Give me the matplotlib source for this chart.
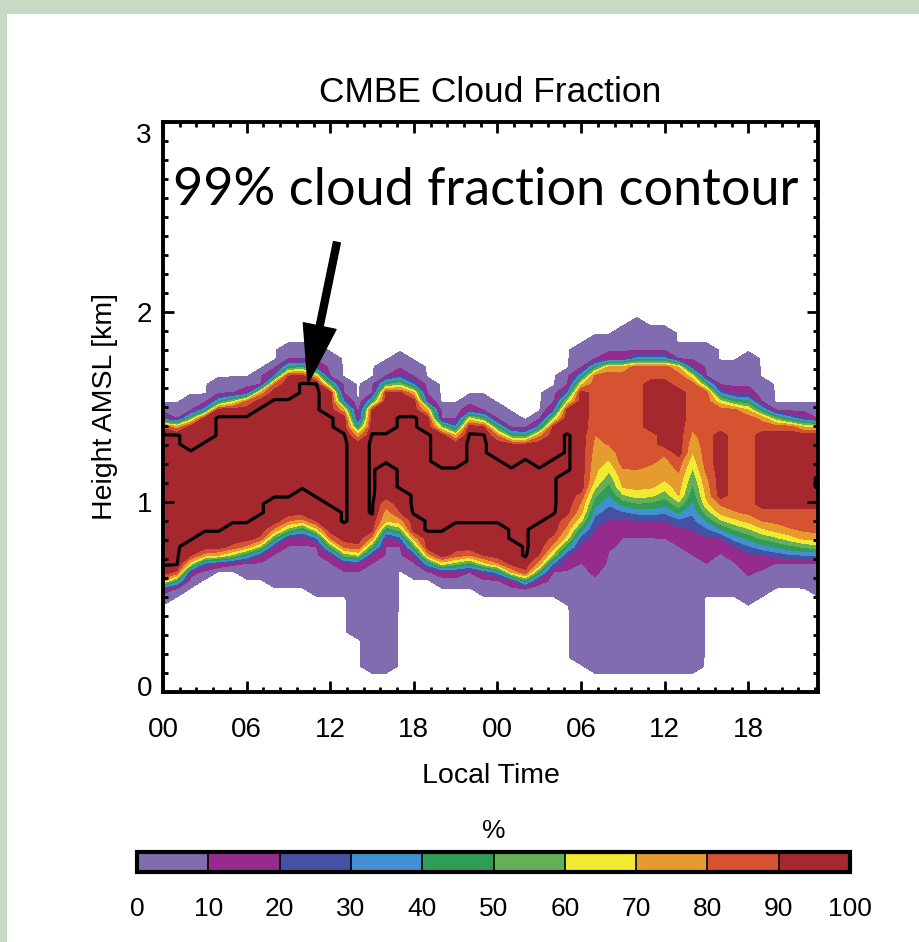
import numpy as np
import matplotlib
matplotlib.use('Agg')
import matplotlib.pyplot as plt
from matplotlib.colors import ListedColormap, BoundaryNorm
from matplotlib.colorbar import ColorbarBase
from matplotlib.patches import Rectangle
from matplotlib.ticker import MultipleLocator, FixedLocator
from matplotlib.transforms import ScaledTranslation

plt.rcParams['font.family'] = ['Liberation Sans', 'DejaVu Sans']

nan = np.nan

# hourly columns over two days (local time)
hours = np.arange(48)
hour_labels = ['00', '06', '12', '18', '00', '06', '12', '18']

# cloud-fraction colour bins, 0-100 %
cf_bounds = [0, 10, 20, 30, 40, 50, 60, 70, 80, 90, 100]
cf_colors = ['#806cae', '#952b8d', '#4552a3', '#4390d0', '#2f9d55',
             '#63b056', '#f2e932', '#e69b2e', '#d55330', '#a6282f']

# per-hour layer heights (km AMSL)
cld_top = [1.50, 1.50, 1.55, 1.55, 1.64, 1.64, 1.64, 1.70, 1.74, 1.83, 1.84, 1.82,
           1.76, 1.66, 1.50, 1.66, 1.74, 1.77, 1.74, 1.62, 1.51, 1.51, 1.57, 1.56,
           1.52, 1.45, 1.42, 1.47, 1.58, 1.70, 1.82, 1.85, 1.88, 1.93, 1.94, 1.93,
           1.90, 1.84, 1.82, 1.84, 1.72, 1.72, 1.76, 1.62, 1.52, 1.50, 1.50, 1.50]
top10 = [1.45, 1.44, 1.47, 1.50, 1.55, 1.57, 1.58, 1.62, 1.68, 1.74, 1.75, 1.72,
         1.65, 1.55, 1.44, 1.56, 1.66, 1.68, 1.64, 1.54, 1.44, 1.42, 1.49, 1.48,
         1.44, 1.39, 1.38, 1.42, 1.50, 1.60, 1.70, 1.75, 1.76, 1.76, 1.77, 1.77,
         1.77, 1.75, 1.72, 1.66, 1.60, 1.58, 1.58, 1.52, 1.48, 1.46, 1.45, 1.44]
top_core = [1.39, 1.38, 1.41, 1.45, 1.49, 1.50, 1.52, 1.56, 1.61, 1.66, 1.66, 1.64,
            1.58, 1.46, 1.32, 1.48, 1.57, 1.57, 1.55, 1.46, 1.36, 1.32, 1.41, 1.39,
            1.33, 1.30, 1.30, 1.33, 1.39, 1.48, 1.58, 1.66, 1.70, 1.70, 1.72, 1.72,
            1.72, 1.70, 1.64, 1.58, 1.50, 1.48, 1.46, 1.43, 1.41, 1.40, 1.38, 1.38]
base_core = [0.63, 0.64, 0.73, 0.76, 0.76, 0.78, 0.79, 0.82, 0.88, 0.93, 0.94, 0.91,
             0.83, 0.79, 0.78, 0.86, 1.04, 0.96, 0.85, 0.76, 0.72, 0.74, 0.75, 0.73,
             0.71, 0.68, 0.64, 0.74, 0.84, 0.96, 1.08, 1.40, 1.34, 1.22, 1.21, 1.24,
             1.29, 1.20, 1.42, 1.19, 1.02, 0.99, 0.97, 0.94, 0.92, 0.90, 0.88, 0.87]
base80 = [0.60, 0.62, 0.70, 0.73, 0.74, 0.75, 0.77, 0.80, 0.86, 0.90, 0.91, 0.88,
          0.81, 0.76, 0.75, 0.82, 0.98, 0.92, 0.82, 0.73, 0.70, 0.71, 0.72, 0.70,
          0.68, 0.65, 0.62, 0.69, 0.78, 0.88, 1.00, 1.36, 1.30, 1.18, 1.17, 1.20,
          1.25, 1.16, 1.38, 1.15, 0.98, 0.95, 0.93, 0.90, 0.88, 0.86, 0.84, 0.83]
base70 = [0.58, 0.60, 0.68, 0.71, 0.72, 0.73, 0.75, 0.78, 0.84, 0.87, 0.89, 0.86,
          0.79, 0.74, 0.73, 0.79, 0.90, 0.88, 0.80, 0.71, 0.68, 0.69, 0.70, 0.68,
          0.66, 0.63, 0.60, 0.66, 0.74, 0.82, 0.92, 1.12, 1.22, 1.07, 1.05, 1.06,
          1.10, 1.03, 1.26, 1.00, 0.93, 0.91, 0.89, 0.86, 0.84, 0.82, 0.80, 0.79]
base20 = [0.55, 0.57, 0.64, 0.67, 0.68, 0.69, 0.70, 0.72, 0.77, 0.82, 0.83, 0.80,
          0.73, 0.68, 0.68, 0.73, 0.82, 0.80, 0.72, 0.66, 0.64, 0.64, 0.65, 0.63,
          0.62, 0.59, 0.57, 0.60, 0.66, 0.72, 0.80, 0.88, 0.92, 0.92, 0.91, 0.90,
          0.90, 0.88, 0.85, 0.83, 0.81, 0.77, 0.74, 0.72, 0.71, 0.70, 0.70, 0.70]
base10 = [0.53, 0.55, 0.62, 0.65, 0.66, 0.67, 0.68, 0.70, 0.75, 0.79, 0.80, 0.77,
          0.71, 0.66, 0.66, 0.70, 0.79, 0.77, 0.70, 0.64, 0.62, 0.62, 0.63, 0.61,
          0.60, 0.57, 0.55, 0.58, 0.63, 0.66, 0.70, 0.62, 0.76, 0.82, 0.83, 0.82,
          0.81, 0.79, 0.73, 0.68, 0.75, 0.70, 0.62, 0.66, 0.69, 0.68, 0.68, 0.68]
cld_base = [0.47, 0.53, 0.58, 0.62, 0.64, 0.64, 0.63, 0.60, 0.57, 0.56, 0.55, 0.54,
            0.52, 0.50, 0.29, 0.11, 0.11, 0.64, 0.63, 0.60, 0.57, 0.56, 0.55, 0.54,
            0.54, 0.52, 0.50, 0.51, 0.50, 0.48, 0.16, 0.11, 0.11, 0.11, 0.11, 0.11,
            0.11, 0.11, 0.11, 0.52, 0.54, 0.53, 0.46, 0.50, 0.56, 0.57, 0.55, 0.52]

# cloud fraction (%) inside the layer core
core_cf = [95, 95, 95, 95, 95, 95, 95, 95, 95, 95, 95, 95,
           95, 95, 95, 95, 95, 95, 95, 95, 95, 95, 95, 95,
           95, 95, 95, 95, 95, 95, 95, 85, 85, 85, 85, 85,
           85, 85, 85, 85, 85, 85, 85, 85, 85, 85, 85, 85]

# overcast pockets (>90 %) inside the day-2 layer
patch_lo = [nan] * 35 + [1.38, 1.30, 1.24, nan, nan, 1.01, nan, nan, 0.98, 0.95, 0.95, 0.95, 0.96]
patch_hi = [nan] * 35 + [1.65, 1.66, 1.60, nan, nan, 1.37, nan, nan, 1.36, 1.36, 1.36, 1.35, 1.35]

# fully overcast (>=99 %) core
full_lo = [0.65, 0.66, 0.77, 0.82, 0.81, 0.87, 0.87, 0.91, 1.01, 1.01, 1.05, 1.01,
           0.96, 0.89, nan, 0.91, 1.19, 1.07, 0.90, 0.82, 0.83, 0.86, 0.88, 0.86,
           0.86, 0.78, 0.69, 0.89, 0.93, 1.14] + [nan] * 17 + [1.05]
full_hi = [1.37, 1.37, 1.29, 1.34, 1.44, 1.46, 1.46, 1.50, 1.55, 1.57, 1.64, 1.62,
           1.47, 1.38, nan, 1.38, 1.38, 1.47, 1.46, 1.35, 1.21, 1.20, 1.37, 1.36,
           1.25, 1.20, 1.23, 1.20, 1.25, 1.37] + [nan] * 17 + [1.13]

# build the height x time grid
z = np.arange(0, 3.0001, 0.045)
cf = np.zeros((len(z), len(hours)))
for i in range(len(hours)):
    zk = [cld_base[i], base10[i], base20[i], base70[i], base80[i],
          base_core[i], top_core[i], top10[i], cld_top[i]]
    vk = [5, 10, 20, 70, 80, core_cf[i], core_cf[i], 10, 5]
    col = np.interp(z, zk, vk)
    col[(z < cld_base[i]) | (z > cld_top[i])] = 0
    if not np.isnan(patch_lo[i]):
        m = (z >= patch_lo[i]) & (z <= patch_hi[i])
        col[m] = np.maximum(col[m], 95)
    if not np.isnan(full_lo[i]):
        col[(z >= full_lo[i]) & (z <= full_hi[i])] = 100
    cf[:, i] = col

W, H = 919, 942
fig = plt.figure(figsize=(W / 100, H / 100), dpi=100)
fig.patch.set_facecolor('#c8dac3')
fig.add_artist(Rectangle((7 / W, 0), 1 - 7 / W, 1 - 14 / H, transform=fig.transFigure,
                         facecolor='white', edgecolor='none', zorder=-10))

ax = fig.add_axes([163 / W, 1 - 692 / H, 655 / W, 570 / H])
levels = [1, 10, 20, 30, 40, 50, 60, 70, 80, 90, 101]
ax.contourf(hours, z, cf, levels=levels, colors=cf_colors)
ax.contour(hours, z, cf, levels=[99], colors='k', linewidths=2.3)

ax.set_xlim(0, 47)
ax.set_ylim(0, 3)
ax.xaxis.set_major_locator(FixedLocator(hours[::6]))
ax.set_xticklabels(hour_labels)
ax.xaxis.set_minor_locator(MultipleLocator(1.2))
ax.yaxis.set_major_locator(FixedLocator([0, 1, 2, 3]))
ax.yaxis.set_minor_locator(MultipleLocator(0.1))
ax.tick_params(which='both', direction='in', top=True, right=True, width=2)
ax.tick_params(which='major', length=8)
ax.tick_params(which='minor', length=3.5)
ax.tick_params(axis='x', which='major', pad=18, labelsize=20)
ax.tick_params(axis='y', which='major', pad=8, labelsize=20)
for s in ax.spines.values():
    s.set_linewidth(2.8)

# end labels sit slightly inside the frame
ylbls = ax.get_yticklabels()
ylbls[0].set_transform(ylbls[0].get_transform() + ScaledTranslation(0, 0.06, fig.dpi_scale_trans))
ylbls[-1].set_transform(ylbls[-1].get_transform() + ScaledTranslation(0, -0.11, fig.dpi_scale_trans))

ax.set_xlabel('Local Time', fontsize=20.5)
ax.xaxis.set_label_coords(0.5, -0.125)
ax.set_ylabel('Height AMSL [km]', fontsize=20.5)
ax.yaxis.set_label_coords(-0.069, 0.5)
ax.text(0.5, 600 / 570, 'CMBE Cloud Fraction', transform=ax.transAxes,
        ha='center', va='center', fontsize=25.5)

ax.annotate('', xy=(10.4, 1.625), xytext=(12.48, 2.367),
            arrowprops=dict(facecolor='k', edgecolor='k', width=5, headwidth=24,
                            headlength=42, shrink=0))
ax.text(0.015, (692 - 205) / 570, '99% cloud fraction contour', transform=ax.transAxes,
        ha='left', va='baseline', fontsize=37.5, fontweight='normal',
        family=['Lato', 'DejaVu Sans'])

cax = fig.add_axes([137 / W, 1 - 872 / H, 713 / W, 20 / H])
cb = ColorbarBase(cax, cmap=ListedColormap(cf_colors),
                  norm=BoundaryNorm(cf_bounds, len(cf_colors)),
                  orientation='horizontal', ticks=cf_bounds, drawedges=True)
cb.outline.set_linewidth(3)
cb.dividers.set_linewidth(1.2)
cax.tick_params(length=0, pad=18, labelsize=19)
cax.set_title('%', fontsize=19, pad=10)

fig.savefig('out.png', dpi=100)
